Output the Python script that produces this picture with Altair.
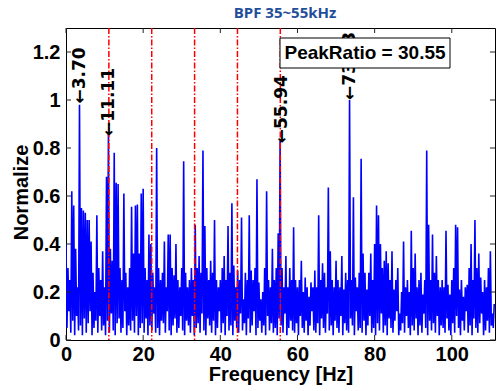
import altair as alt
import pandas as pd

# ---- spectrum data, 0.5 Hz peak bins + troughs between ----
peaks_000 = [0.40,0.30,0.25,0.62,0.56,0.38,0.22,0.98,0.55,0.54,0.53,0.50,0.50,0.41,0.28,0.20,0.52,0.30,0.25,0.37]
peaks_010 = [0.22,0.68,0.86,0.38,0.33,0.78,0.655,0.65,0.30,0.25,0.61,0.28,0.22,0.30,0.555,0.36,0.56,0.565,0.36,0.61]
peaks_020 = [0.63,0.30,0.25,0.44,0.40,0.28,0.22,0.80,0.30,0.25,0.28,0.41,0.22,0.44,0.44,0.30,0.27,0.40,0.25,0.22]
peaks_030 = [0.30,0.745,0.28,0.22,0.25,0.30,0.25,0.48,0.30,0.35,0.28,0.79,0.475,0.30,0.25,0.33,0.28,0.50,0.25,0.22]
peaks_040 = [0.25,0.30,0.35,0.25,0.475,0.28,0.57,0.31,0.22,0.29,0.25,0.51,0.17,0.28,0.25,0.52,0.29,0.25,0.30,0.67]
peaks_050 = [0.24,0.17,0.20,0.30,0.62,0.25,0.22,0.38,0.25,0.30,0.445,0.83,0.30,0.22,0.35,0.22,0.30,0.25,0.47,0.25]
peaks_060 = [0.22,0.25,0.33,0.20,0.26,0.22,0.18,0.24,0.22,0.29,0.22,0.52,0.25,0.32,0.28,0.22,0.635,0.37,0.25,0.22]
peaks_070 = [0.33,0.25,0.22,0.35,0.21,0.28,0.25,1.00,0.25,0.595,0.26,0.22,0.28,0.755,0.36,0.28,0.21,0.28,0.36,0.25]
peaks_080 = [0.40,0.56,0.52,0.40,0.30,0.33,0.37,0.32,0.25,0.37,0.21,0.25,0.30,0.11,0.20,0.41,0.22,0.25,0.20,0.455]
peaks_090 = [0.30,0.36,0.22,0.25,0.28,0.19,0.25,0.79,0.48,0.25,0.44,0.28,0.35,0.25,0.22,0.25,0.22,0.455,0.23,0.19]
peaks_100 = [0.25,0.30,0.48,0.47,0.21,0.25,0.18,0.22,0.23,0.30,0.40,0.25,0.50,0.30,0.36,0.26,0.20,0.25,0.22,0.30,0.37,0.11,0.15]

troughs_000 = [0.05,0.12,0.03,0.08,0.02,0.10,0.04,0.06,0.02,0.09,0.03,0.07,0.12,0.02,0.05,0.08,0.03,0.10,0.04,0.06]
troughs_010 = [0.02,0.08,0.03,0.11,0.04,0.02,0.07,0.09,0.03,0.05,0.12,0.02,0.06,0.04,0.08,0.03,0.10,0.02,0.05,0.07]
troughs_020 = [0.03,0.09,0.02,0.06,0.04,0.11,0.03,0.05,0.02,0.08,0.07,0.03,0.12,0.04,0.02,0.06,0.09,0.03,0.05,0.10]
troughs_030 = [0.04,0.02,0.08,0.06,0.03,0.10,0.02,0.05,0.07,0.03,0.11,0.04,0.02,0.09,0.06,0.03,0.08,0.02,0.05,0.12]
troughs_040 = [0.03,0.07,0.02,0.10,0.04,0.06,0.02,0.08,0.05,0.03,0.11,0.04,0.07,0.02,0.09,0.03,0.06,0.12,0.02,0.05]
troughs_050 = [0.08,0.03,0.06,0.02,0.10,0.04,0.07,0.03,0.05,0.02,0.09,0.06,0.03,0.11,0.02,0.05,0.08,0.04,0.03,0.07]
troughs_060 = [0.02,0.10,0.05,0.03,0.08,0.02,0.06,0.12,0.04,0.03,0.07,0.02,0.09,0.05,0.03,0.11,0.04,0.06,0.02,0.08]
troughs_070 = [0.05,0.03,0.10,0.02,0.07,0.04,0.03,0.09,0.06,0.02,0.12,0.04,0.05,0.03,0.08,0.02,0.06,0.10,0.03,0.05]
troughs_080 = [0.02,0.07,0.04,0.11,0.03,0.06,0.02,0.09,0.05,0.03,0.08,0.12,0.02,0.04,0.07,0.03,0.10,0.05,0.02,0.06]
troughs_090 = [0.04,0.09,0.02,0.06,0.03,0.11,0.05,0.02,0.08,0.04,0.07,0.03,0.10,0.02,0.06,0.05,0.03,0.09,0.04,0.02]
troughs_100 = [0.07,0.03,0.10,0.05,0.02,0.08,0.04,0.12,0.03,0.06,0.02,0.09,0.05,0.03,0.07,0.11,0.02,0.04,0.08,0.03,0.06,0.05]

bin_width = 0.5  # Hz

harmonics = [11.11, 22.22, 33.33, 44.44, 55.55]

label_freq = [3.70, 11.11, 55.94, 73.53]
label_peak = [0.985, 0.85, 0.82, 1.0]
label_text = ["\u21903.70", "\u219011.11", "\u219055.94", "\u219073.53"]

x_ticks = [0, 20, 40, 60, 80, 100]
y_ticks = [0, 0.2, 0.4, 0.6, 0.8, 1.0, 1.2]

title_text = "BPF 35~55kHz"
box_text = "PeakRatio = 30.55"
x_title = "Frequency [Hz]"
y_title = "Normalize"

# ---- build table ----
peaks = (peaks_000 + peaks_010 + peaks_020 + peaks_030 + peaks_040 + peaks_050 +
         peaks_060 + peaks_070 + peaks_080 + peaks_090 + peaks_100)
troughs = (troughs_000 + troughs_010 + troughs_020 + troughs_030 + troughs_040 + troughs_050 +
           troughs_060 + troughs_070 + troughs_080 + troughs_090 + troughs_100)
rows = []
for i, p in enumerate(peaks):
    rows.append({"f": i * bin_width, "v": p})
    if i < len(troughs):
        rows.append({"f": i * bin_width + bin_width / 2, "v": troughs[i]})
spec_df = pd.DataFrame(rows)

W, H = 429, 312
FONT = "Liberation Sans"
xscale = alt.Scale(domain=[0, 111.2], nice=False, zero=False)
yscale = alt.Scale(domain=[0, 1.3], nice=False)

x_axis = alt.Axis(values=x_ticks, title=x_title, labelFlush=False, labelPadding=4,
                  titlePadding=0, ticks=False, domain=False, grid=False)
y_axis = alt.Axis(values=y_ticks, format="~g", title=y_title, labelFlush=False,
                  labelPadding=6, ticks=False, domain=False, grid=False,
                  titleX=-45, titleY=164, titleAngle=270, titleAlign="center",
                  titleBaseline="middle")
X = alt.X("f:Q", scale=xscale, axis=x_axis)
Y = alt.Y("v:Q", scale=yscale, axis=y_axis)

line = alt.Chart(spec_df).mark_line(color="#0000ff", strokeWidth=1.6, clip=True).encode(x=X, y=Y)

harm = alt.Chart(pd.DataFrame({"f": harmonics})).mark_rule(
    color="#ff0000", strokeWidth=1.5, strokeDash=[6, 2, 1.5, 2]
).encode(x=X, y=alt.value(0), y2=alt.value(H))

xt = pd.DataFrame({"f": x_ticks})
yt = pd.DataFrame({"v": y_ticks})
tick_kw = dict(color="#222222", strokeWidth=1)
xb = alt.Chart(xt).mark_rule(**tick_kw).encode(x=X, y=alt.value(H), y2=alt.value(H - 5))
xtop = alt.Chart(xt).mark_rule(**tick_kw).encode(x=X, y=alt.value(0), y2=alt.value(5))
yl = alt.Chart(yt).mark_rule(**tick_kw).encode(y=Y, x=alt.value(0), x2=alt.value(5))
yr = alt.Chart(yt).mark_rule(**tick_kw).encode(y=Y, x=alt.value(W), x2=alt.value(W - 5))

labels = alt.Chart(pd.DataFrame({"f": label_freq, "v": label_peak, "t": label_text})).mark_text(
    angle=270, align="left", baseline="middle", fontSize=17, fontWeight="bold",
    font="DejaVu Sans", color="black"
).encode(x=X, y=Y, text="t:N")

one = pd.DataFrame({"t": [box_text]})
box = alt.Chart(one).mark_rect(fill="white", stroke="black", strokeWidth=1).encode(
    x=alt.value(214), x2=alt.value(384), y=alt.value(10), y2=alt.value(40))
box_label = alt.Chart(one).mark_text(
    fontSize=19, fontWeight="bold", font=FONT, color="black", align="center", baseline="middle"
).encode(x=alt.value(299), y=alt.value(25), text="t:N")

title = alt.Chart(pd.DataFrame({"t": [title_text]})).mark_text(
    fontSize=15, fontWeight="bold", font="Open Sans", color="#1f4e9a", align="center", baseline="middle"
).encode(x=alt.value(219), y=alt.value(-15), text="t:N")

chart = alt.layer(line, harm, xb, xtop, yl, yr, labels, box, box_label, title).properties(
    width=W, height=H,
    autosize=alt.AutoSizeParams(type="none"),
    padding={"left": 66, "top": 28, "right": 3, "bottom": 51},
    background="white",
).configure_view(stroke="#000000", strokeWidth=1).configure_axis(
    labelFont=FONT, labelFontSize=20, labelFontWeight="bold", labelColor="black",
    titleFont=FONT, titleFontSize=20, titleFontWeight="bold", titleColor="black",
)

chart.save("out.html", embed_options={"renderer": "svg", "actions": False})
